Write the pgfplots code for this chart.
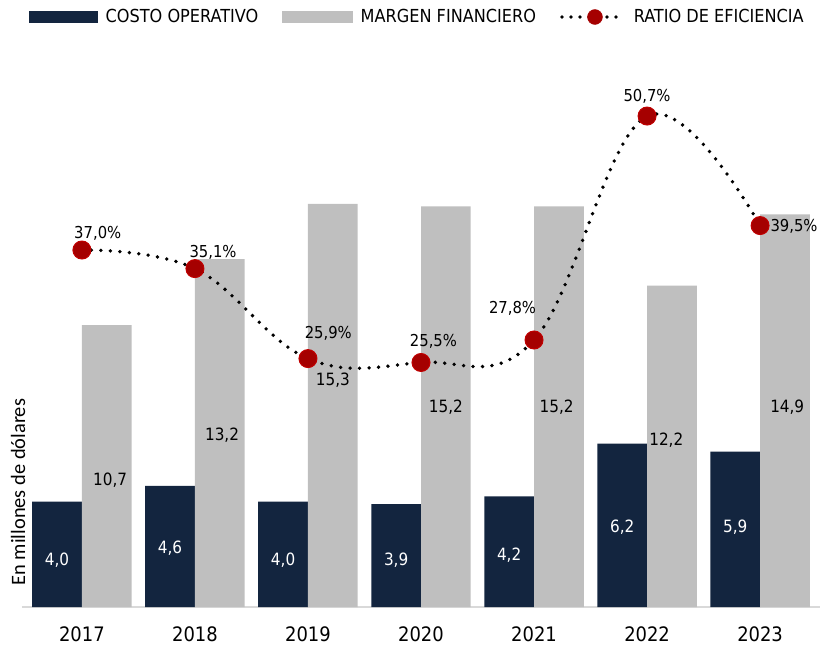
\documentclass[border=0pt]{standalone}
\usepackage{pgfplots}
\usepackage{pgfplotstable}
\pgfplotsset{compat=1.18}
\usepackage{fontspec}
\setmainfont{DejaVu Sans Condensed}
\newfontfamily\calibri{Carlito}
\definecolor{navy}{HTML}{13253F}
\definecolor{lgray}{HTML}{BFBFBF}
\definecolor{mred}{HTML}{A50000}
\definecolor{mredb}{HTML}{C00000}
\definecolor{axgray}{HTML}{D9D9D9}

\pgfplotstableread{
x cost marg
0 4.0 10.7
1 4.6 13.2
2 4.0 15.3
3 3.9 15.2
4 4.2 15.2
5 6.2 12.2
6 5.9 14.9
}\bars

\pgfplotstableread{
x r
0 37.0
1 35.1
2 25.9
3 25.5
4 27.8
5 50.7
6 39.5
}\ratio

\pgfplotstableread{
x y t
-0.22 1.78 4,0
0.78 2.24 4,6
1.78 1.78 4,0
2.78 1.78 3,9
3.78 1.97 4,2
4.78 3.04 6,2
5.78 3.04 5,9
}\darklab

\pgfplotstableread{
x y t
0.25 4.82 10,7
1.24 6.53 13,2
2.22 8.61 15,3
3.22 7.59 15,2
4.20 7.59 15,2
5.17 6.34 12,2
6.24 7.59 14,9
}\graylab

\pgfplotstableread{
x y t
0.14 38.74 37,0
1.16 36.8 35,1
2.18 28.5 25,9
3.11 27.7 25,5
3.81 31.07 27,8
5.00 52.75 50,7
6.30 39.46 39,5
}\ratlab

\begin{document}
\begin{tikzpicture}
\begin{axis}[name=main,
  scale only axis, width=798bp, height=547bp,
  xmin=-0.53, xmax=6.53, ymin=0, ymax=20.76,
  axis x line*=bottom, axis y line=none,
  x axis line style={axgray, line width=1.5bp},
  xtick={0,...,6}, xticklabels={2017,2018,2019,2020,2021,2022,2023},
  major tick length=0pt, ytick=\empty,
  tick label style={font=\fontsize{20}{22}\selectfont},
  xticklabel style={yshift=-16bp},
  clip=false]
\addplot[ybar, bar width=0.44, bar shift=-0.22, fill=navy, draw=none] table[x=x,y=cost]{\bars};
\addplot[ybar, bar width=0.44, bar shift=0.22, fill=lgray, draw=none] table[x=x,y=marg]{\bars};
\addplot[draw=none, mark=none, nodes near coords, point meta=explicit symbolic,
  every node near coord/.style={anchor=center, text=white, font=\fontsize{17}{20}\selectfont}]
  table[x=x,y=y,meta=t]{\darklab};
\addplot[draw=none, mark=none, nodes near coords, point meta=explicit symbolic,
  every node near coord/.style={anchor=center, text=black, font=\fontsize{17}{20}\selectfont}]
  table[x=x,y=y,meta=t]{\graylab};
\node[rotate=90, anchor=center, font=\calibri\fontsize{20.5}{22}\selectfont] at (axis description cs:-0.005,0.21) {En millones de dólares};
\end{axis}
\begin{axis}[
  scale only axis, width=798bp, height=547bp,
  xmin=-0.53, xmax=6.53, ymin=0.5, ymax=56.43,
  hide axis, clip=false,
  legend columns=3,
  legend style={at={(axis description cs:0.4956,1.0786)}, anchor=center, draw=none, fill=none,
    font=\fontsize{18}{20}\selectfont,
    /tikz/every odd column/.append style={column sep=6bp},
    /tikz/every even column/.append style={column sep=22bp}}]
\addlegendimage{legend image code/.code={\fill[navy] (0bp,-5.5bp) rectangle (68bp,5.5bp);}}
\addlegendentry{COSTO OPERATIVO}
\addlegendimage{legend image code/.code={\fill[lgray] (0bp,-5.5bp) rectangle (70bp,5.5bp);}}
\addlegendentry{MARGEN FINANCIERO}
\addlegendimage{legend image code/.code={\draw[black, line width=3.8bp, dash pattern=on 0bp off 9bp, line cap=round] (2bp,0bp) -- (64bp,0bp); \fill[mred] (35bp,0bp) circle (7.5bp);}}
\addlegendentry{RATIO DE EFICIENCIA}
\addplot[forget plot, smooth, tension=0.65, black, line width=3.8bp, dash pattern=on 0bp off 9.5bp, line cap=round,
  mark=*, mark size=9bp, mark options={solid, fill=mred, draw=mredb, line width=1bp}]
  table[x=x,y=r]{\ratio};
\addplot[forget plot, draw=none, mark=none, nodes near coords={\pgfplotspointmeta\%}, point meta=explicit symbolic,
  every node near coord/.style={anchor=center, text=black, font=\fontsize{16.5}{19}\selectfont}]
  table[x=x,y=y,meta=t]{\ratlab};
\end{axis}
\path ([shift={(-22bp,-41bp)}]main.south west) rectangle ([shift={(812bp,607bp)}]main.south west);
\end{tikzpicture}
\end{document}
